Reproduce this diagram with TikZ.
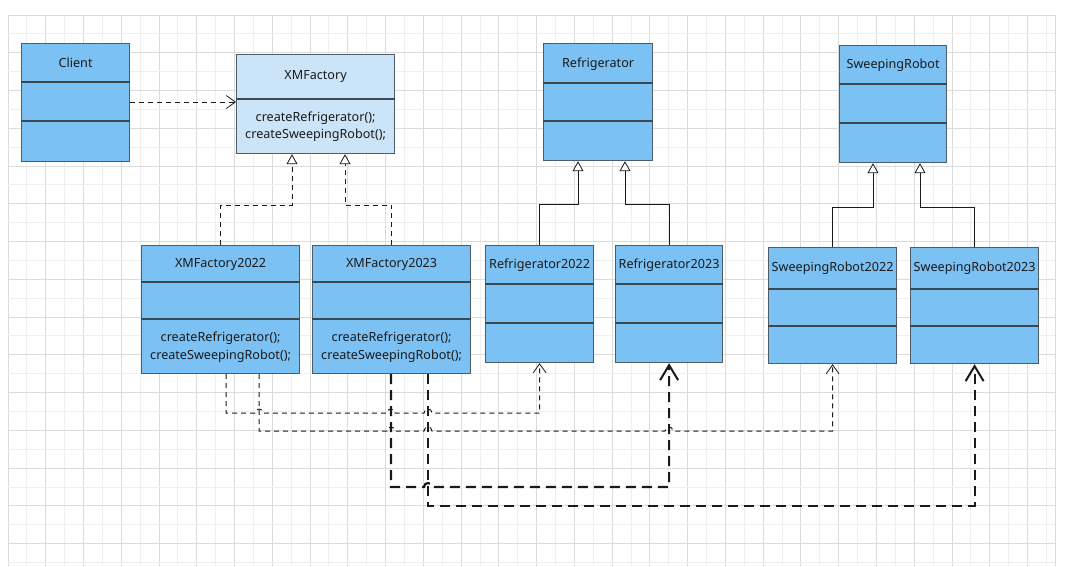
\documentclass[tikz,border=0pt]{standalone}
\usepackage{fontspec}
\setmainfont{Noto Sans}
\usetikzlibrary{arrows.meta,calc}
\definecolor{boxfill}{HTML}{7CC1F3}
\definecolor{ifill}{HTML}{CCE4F8}
\definecolor{boxline}{HTML}{4E5C69}
\definecolor{divline}{HTML}{3C4852}
\definecolor{gminor}{HTML}{EFEFEF}
\definecolor{gmajor}{HTML}{DBDBDB}
\definecolor{ink}{HTML}{1A1A1A}
\begin{document}
\begin{tikzpicture}[x=1pt,y=-1pt,
  cls/.style={draw=boxline, fill=boxfill, line width=1.2pt, rectangle, anchor=north west, inner sep=0pt},
  icls/.style={cls, fill=ifill},
  divl/.style={draw=divline, line width=1.4pt},
  ttl/.style={text=ink, font=\fontsize{12.6}{17}\selectfont, inner sep=0pt},
  mth/.style={text=ink, font=\fontsize{12.6}{17.5}\selectfont, align=center, inner sep=0pt},
  gen/.style={draw=ink, line width=1pt, -{Triangle[length=10pt,width=11pt,fill=white,line width=0.8pt]}},
  real/.style={gen, dash pattern=on 5pt off 4pt},
  dep/.style={draw=ink, line width=1pt, dash pattern=on 5pt off 4pt, -{Straight Barb[length=9pt,width=13pt,line width=0.8pt]}},
  tdep/.style={draw=ink, line width=2.2pt, dash pattern=on 10pt off 6pt, -{Straight Barb[length=15pt,width=18pt,line width=2pt]}}
]
\path[use as bounding box, fill=white] (0,0) rectangle (1073,566);
% grid
\foreach \i in {0,...,55} {
  \pgfmathtruncatemacro{\m}{mod(\i,2)}
  \ifnum\m=0 \draw[gmajor, line width=1pt] ({8+\i*18.88},15) -- ({8+\i*18.88},566);
  \else \draw[gminor, line width=1pt] ({8+\i*18.88},15) -- ({8+\i*18.88},566); \fi
}
\foreach \j in {0,...,29} {
  \pgfmathtruncatemacro{\m}{mod(\j,2)}
  \ifnum\m=0 \draw[gmajor, line width=1pt] (8,{15+\j*18.88}) -- (1055,{15+\j*18.88});
  \else \draw[gminor, line width=1pt] (8,{15+\j*18.88}) -- (1055,{15+\j*18.88}); \fi
}
\draw[gmajor, line width=1pt] (1055,15) -- (1055,566);

% classes
\node[cls, minimum width=108pt, minimum height=118pt] (client) at (21,43) {};
\draw[divl] (client.west |- 0,82) -- (client.east |- 0,82);
\draw[divl] (client.west |- 0,121) -- (client.east |- 0,121);
\node[ttl] (clientT) at (client.north |- 0,63) {Client};

\node[icls, minimum width=158pt, minimum height=99pt] (xmf) at (236,54) {};
\draw[divl] (xmf.west |- 0,99) -- (xmf.east |- 0,99);
\node[ttl] (xmfT) at (xmf.north |- 0,77) {XMFactory};
\node[mth] (xmfM) at (xmf.north |- 0,126.5) {createRefrigerator();\\createSweepingRobot();};

\node[cls, minimum width=158pt, minimum height=128pt] (x22) at (141,245) {};
\draw[divl] (x22.west |- 0,282) -- (x22.east |- 0,282);
\draw[divl] (x22.west |- 0,319) -- (x22.east |- 0,319);
\node[ttl] (x22T) at (x22.north |- 0,264) {XMFactory2022};
\node[mth] (x22M) at (x22.north |- 0,347) {createRefrigerator();\\createSweepingRobot();};

\node[cls, minimum width=158pt, minimum height=128pt] (x23) at (312,245) {};
\draw[divl] (x23.west |- 0,282) -- (x23.east |- 0,282);
\draw[divl] (x23.west |- 0,319) -- (x23.east |- 0,319);
\node[ttl] (x23T) at (x23.north |- 0,264) {XMFactory2023};
\node[mth] (x23M) at (x23.north |- 0,347) {createRefrigerator();\\createSweepingRobot();};

\node[cls, minimum width=109pt, minimum height=117pt] (refr) at (543,43) {};
\draw[divl] (refr.west |- 0,83) -- (refr.east |- 0,83);
\draw[divl] (refr.west |- 0,121) -- (refr.east |- 0,121);
\node[ttl] (refrT) at (refr.north |- 0,64) {Refrigerator};

\node[cls, minimum width=108pt, minimum height=117pt] (r22) at (485,245) {};
\draw[divl] (r22.west |- 0,284) -- (r22.east |- 0,284);
\draw[divl] (r22.west |- 0,323) -- (r22.east |- 0,323);
\node[ttl] (r22T) at (r22.north |- 0,265) {Refrigerator2022};

\node[cls, minimum width=107pt, minimum height=117pt] (r23) at (615,245) {};
\draw[divl] (r23.west |- 0,284) -- (r23.east |- 0,284);
\draw[divl] (r23.west |- 0,323) -- (r23.east |- 0,323);
\node[ttl] (r23T) at (r23.north |- 0,265) {Refrigerator2023};

\node[cls, minimum width=107pt, minimum height=117pt] (sweep) at (839,45) {};
\draw[divl] (sweep.west |- 0,84) -- (sweep.east |- 0,84);
\draw[divl] (sweep.west |- 0,123) -- (sweep.east |- 0,123);
\node[ttl] (sweepT) at (sweep.north |- 0,65) {SweepingRobot};

\node[cls, minimum width=128pt, minimum height=116pt] (s22) at (768,247) {};
\draw[divl] (s22.west |- 0,289) -- (s22.east |- 0,289);
\draw[divl] (s22.west |- 0,326) -- (s22.east |- 0,326);
\node[ttl] (s22T) at (s22.north |- 0,268) {SweepingRobot2022};

\node[cls, minimum width=128pt, minimum height=116pt] (s23) at (910,247) {};
\draw[divl] (s23.west |- 0,289) -- (s23.east |- 0,289);
\draw[divl] (s23.west |- 0,326) -- (s23.east |- 0,326);
\node[ttl] (s23T) at (s23.north |- 0,268) {SweepingRobot2023};

% attachment points
\coordinate (xA) at (xmf.south -| 292,0);
\coordinate (xB) at (xmf.south -| 345,0);
\coordinate (rA) at (refr.south -| 578,0);
\coordinate (rB) at (refr.south -| 625,0);
\coordinate (sA) at (sweep.south -| 873,0);
\coordinate (sB) at (sweep.south -| 920,0);
\coordinate (x22a) at (x22.south -| 226,0);
\coordinate (x22b) at (x22.south -| 259,0);
\coordinate (x23a) at (x23.south -| 391,0);
\coordinate (x23b) at (x23.south -| 428,0);

% client dependency
\draw[dep] (client.east |- 0,102) -- (xmf.west |- 0,102);

% realization / generalization
\draw[real] (x22.north) |- (xA |- 0,205) -- (xA);
\draw[real] (x23.north) |- (xB |- 0,205) -- (xB);
\draw[gen] (r22.north) |- (rA |- 0,204) -- (rA);
\draw[gen] (r23.north) |- (rB |- 0,204) -- (rB);
\draw[gen] (s22.north) |- (sA |- 0,207) -- (sA);
\draw[gen] (s23.north) |- (sB |- 0,207) -- (sB);

% dependencies from factories to products (with line hops)
\draw[dep] (x22a) -- (226,413) -- (255,413) .. controls (255,407.7) and (263,407.7) .. (263,413)
  -- (387,413) .. controls (387,407.7) and (395,407.7) .. (395,413)
  -- (424,413) .. controls (424,407.7) and (432,407.7) .. (432,413)
  -| (r22.south);
\draw[dep] (x22b) -- (259,431) -- (387,431) .. controls (387,425.7) and (395,425.7) .. (395,431)
  -- (424,431) .. controls (424,425.7) and (432,425.7) .. (432,431)
  -- (665,431) .. controls (665,425.7) and (673,425.7) .. (673,431)
  -| (s22.south);
\draw[tdep] (x23a) -- (391,487) -- (424,487) .. controls (424,481.7) and (432,481.7) .. (432,487)
  -| (r23.south);
\draw[tdep] (x23b) -- (428,506) -| (s23.south);
\end{tikzpicture}
\end{document}
